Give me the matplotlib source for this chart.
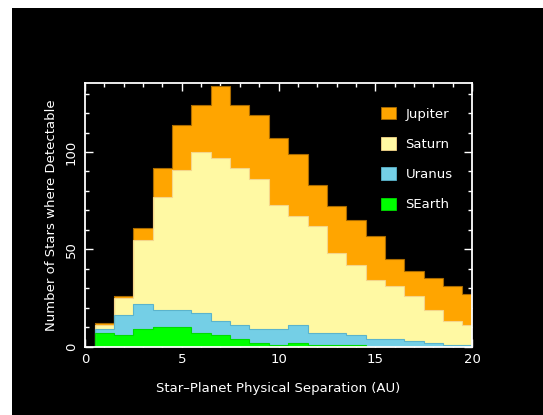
import numpy as np
import matplotlib
matplotlib.use("Agg")
import matplotlib.pyplot as plt
from matplotlib.patches import Patch, Rectangle

# Bin centres (AU) — bins of width 1 centred on integers
separation_au = [1, 2, 3, 4, 5, 6, 7, 8, 9, 10, 11, 12, 13, 14, 15, 16, 17, 18, 19, 20]

jupiter = [12, 26, 61, 92, 114, 124, 134, 124, 119, 107, 99, 83, 72, 65, 57, 45, 39, 35, 31, 27]
saturn = [11, 25, 55, 77, 91, 100, 97, 92, 86, 73, 67, 62, 48, 42, 34, 31, 26, 19, 13, 11]
uranus = [9, 16, 22, 19, 19, 17, 13, 11, 9, 9, 11, 7, 7, 6, 4, 4, 3, 2, 1, 1]
searth = [7, 6, 9, 10, 10, 7, 6, 4, 2, 1, 2, 1, 1, 1, 0, 0, 0, 0, 0, 0]

series_names = ["Jupiter", "Saturn", "Uranus", "SEarth"]
series_values = [jupiter, saturn, uranus, searth]
fill_colors = ["#FFA500", "#FFF9A3", "#74CFE6", "#00FF00"]
edge_colors = ["#A86A00", "#F5D58A", "#5BB4CC", "#00DD00"]

x_ticks = [0, 5, 10, 15, 20]
y_ticks = [0, 50, 100]

fig = plt.figure(figsize=(5.43, 4.15), dpi=100, facecolor="white")
# black panel (white strip top and left as in the reference)
fig.patches.append(Rectangle((12 / 543, -0.02), 1.02 - 12 / 543, 1.02 - 8 / 415,
                             transform=fig.transFigure, facecolor="black",
                             edgecolor="none", zorder=-10))

ax = fig.add_axes([85 / 543, 1 - 346.5 / 415, (472 - 85) / 543, (346.5 - 83) / 415])
ax.set_facecolor("black")

centres = np.asarray(separation_au, dtype=float)
edges = np.concatenate([centres - 0.5, [centres[-1] + 0.5]])

for name, vals, fc, ec in zip(series_names, series_values, fill_colors, edge_colors):
    ax.stairs(vals, edges, fill=True, color=fc, zorder=2)
    ax.stairs(vals, edges, fill=False, color=ec, lw=0.8, zorder=2.1)

ax.set_xlim(0, 20)
ax.set_ylim(0, 135.5)
ax.set_xticks(x_ticks)
ax.set_xticks(np.arange(0, 21, 1), minor=True)
ax.set_yticks(y_ticks)
ax.set_yticks(np.arange(0, 136, 10), minor=True)

for sp in ax.spines.values():
    sp.set_color("white")
    sp.set_linewidth(1.3)
    sp.set_zorder(5)

ax.tick_params(which="both", direction="in", top=True, right=True,
               colors="white", labelsize=9.5, width=1.0)
ax.tick_params(which="major", length=5.5, pad=5)
ax.tick_params(which="minor", length=3)
for lab in ax.get_yticklabels():
    lab.set_rotation(90)
    lab.set_va("center")

ax.set_xlabel("Star\u2013Planet Physical Separation (AU)", color="white",
              fontsize=9.5, labelpad=11)
ax.set_ylabel("Number of Stars where Detectable", color="white",
              fontsize=9.5, labelpad=5)

handles = [Patch(facecolor=fc, edgecolor=ec, lw=0.6) for fc, ec in zip(fill_colors, edge_colors)]
leg = ax.legend(handles, series_names, loc="upper left", bbox_to_anchor=(0.765, 0.91),
                frameon=False, borderpad=0, borderaxespad=0, handlelength=1.1,
                handleheight=1.1, handletextpad=0.75, labelspacing=1.25,
                fontsize=9.5)
for t in leg.get_texts():
    t.set_color("white")

fig.savefig("out.png", dpi=100, facecolor="white")
